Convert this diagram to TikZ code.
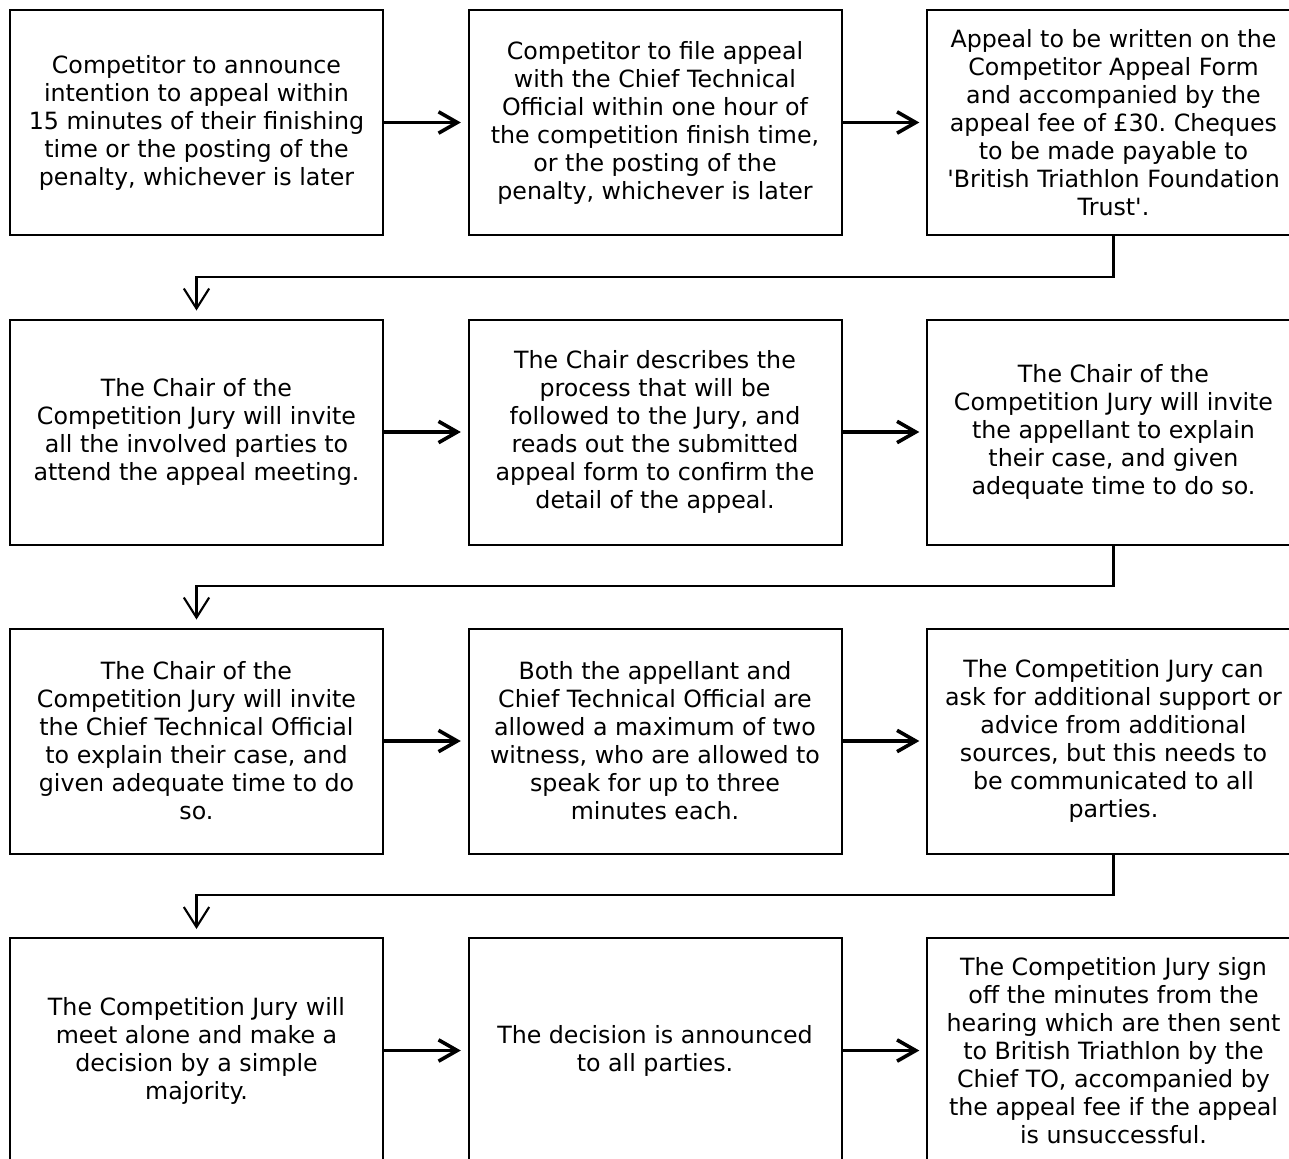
\documentclass[tikz,border=0pt]{standalone}
\usepackage{fontspec}
\setmainfont{DejaVu Sans}
\usepackage{tikz}
\usetikzlibrary{arrows.meta}
\frenchspacing
\newcommand{\appealstep}[3] {\node at (#1) (#2) [rectangle, draw, line width=1.5pt, inner sep=0pt, minimum width=279.75pt, minimum height=168.75pt, align=center, font=\fontsize{17.8}{21}\selectfont] {#3};}
\newcommand{\appealtransition}[2] {\draw [line width=2.4pt, shorten >=5pt, -{Straight Barb[length=14pt,width=16pt,line width=2.7pt]}] (#1) -- (#2);}
\newcommand{\appealxthree}[4] {\draw [line width=2pt, shorten >=6pt, -{Straight Barb[length=15pt,width=19pt,line width=1.6pt]}] (#1) -- (#2) -- (#3) -- (#4);}

\begin{document}
\begin{tikzpicture}[x=0.75pt, y=-0.75pt]

\clip (0,0) rectangle (1289,1158);

\appealstep {196.5,122.5}{announce}{Competitor to announce\\intention to appeal within\\15 minutes of their finishing\\time or the posting of the\\penalty, whichever is later}
\appealstep {655,122.5}{file}{Competitor to file appeal\\with the Chief Technical\\Official within one hour of\\the competition finish time,\\or the posting of the\\penalty, whichever is later}
\appealstep {1113.5,122.5}{form}{Appeal to be written on the\\Competitor Appeal Form\\and accompanied by the\\appeal fee of £30. Cheques\\to be made payable to\\\textquotesingle British Triathlon Foundation\\Trust\textquotesingle.}
\coordinate (form1) at (1113.5, 277);
\coordinate (form2) at (196.5, 277);

\appealstep {196.5,432}{invite}{The Chair of the\\Competition Jury will invite\\all the involved parties to\\attend the appeal meeting.}
\appealstep {655,432}{describe}{The Chair describes the\\process that will be\\followed to the Jury, and\\reads out the submitted\\appeal form to confirm the\\detail of the appeal.}
\appealstep {1113.5,432}{appellant}{The Chair of the\\Competition Jury will invite\\the appellant to explain\\their case, and given\\adequate time to do so.}
\coordinate (appellant1) at (1113.5, 586);
\coordinate (appellant2) at (196.5, 586);

\appealstep {196.5,741}{official}{The Chair of the\\Competition Jury will invite\\the Chief Technical Official\\to explain their case, and\\given adequate time to do\\so.}
\appealstep {655,741}{witness}{Both the appellant and\\Chief Technical Official are\\allowed a maximum of two\\witness, who are allowed to\\speak for up to three\\minutes each.}
\appealstep {1113.5,741}{advice}{The Competition Jury can\\ask for additional support or\\advice from additional\\sources, but this needs to\\be communicated to all\\parties.}
\coordinate (advice1) at (1113.5, 895);
\coordinate (advice2) at (196.5, 895);

\appealstep {196.5,1050.5}{meet}{The Competition Jury will\\meet alone and make a\\decision by a simple\\majority.}
\appealstep {655,1050.5}{decision}{The decision is announced\\to all parties.}
\appealstep {1113.5,1050.5}{minutes}{The Competition Jury sign\\off the minutes from the\\hearing which are then sent\\to British Triathlon by the\\Chief TO, accompanied by\\the appeal fee if the appeal\\is unsuccessful.}

\appealtransition {announce}{file}
\appealtransition {file}{form}
\appealtransition {invite}{describe}
\appealtransition {describe}{appellant}
\appealtransition {official}{witness}
\appealtransition {witness}{advice}
\appealtransition {meet}{decision}
\appealtransition {decision}{minutes}
\appealxthree {form}{form1}{form2}{invite}
\appealxthree {appellant}{appellant1}{appellant2}{official}
\appealxthree {advice}{advice1}{advice2}{meet}
\end{tikzpicture}
\end{document}
